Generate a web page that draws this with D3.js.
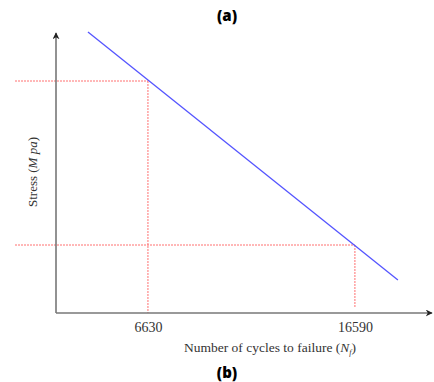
<!DOCTYPE html>
<html>
<head>
<meta charset="utf-8">
<script src="https://cdn.jsdelivr.net/npm/d3@7"></script>
<style>
  body { margin: 0; background: #fff; }
  svg { display: block; }
  .serif { font-family: "Liberation Serif", "Times New Roman", serif; fill: #333; }
  .cap { font-family: "Open Sans", "DejaVu Sans", sans-serif; font-weight: 800; fill: #000; }
</style>
</head>
<body>
<svg id="chart" width="434" height="382"></svg>
<script>
// cycles to failure marked on the x axis
var markCycles = [6630, 16590];
// stress level reached at each marked cycle count (arbitrary units, no ticks shown)
var markStress = [232, 68];
// ends of the S-N line
var lineCycles = [3743, 18660];
var lineStress = [281, 33];

var svg = d3.select('#chart');

var x = d3.scaleLinear().domain([2205, 20300]).range([56, 432]);
var y = d3.scaleLinear().domain([0, 280]).range([313, 33]);

var defs = svg.append('defs');
defs.append('marker')
  .attr('id', 'arrow')
  .attr('viewBox', '0 0 10 10')
  .attr('refX', 9).attr('refY', 5)
  .attr('markerWidth', 7).attr('markerHeight', 7)
  .attr('markerUnits', 'userSpaceOnUse')
  .attr('orient', 'auto')
  .append('path')
  .attr('d', 'M0,0 L10,5 L0,10 L3,5 Z')
  .attr('fill', '#222');

// guide lines
markCycles.forEach(function (c, i) {
  svg.append('line')
    .attr('x1', 15).attr('x2', x(c))
    .attr('y1', y(markStress[i])).attr('y2', y(markStress[i]))
    .attr('stroke', '#ff7070').attr('stroke-width', 1)
    .attr('stroke-dasharray', '2,1');
  svg.append('line')
    .attr('x1', x(c)).attr('x2', x(c))
    .attr('y1', y(markStress[i])).attr('y2', i === 0 ? y(0) : y(6))
    .attr('stroke', '#ff7070').attr('stroke-width', 1)
    .attr('stroke-dasharray', '2,1');
});

// S-N line
svg.append('line')
  .attr('x1', x(lineCycles[0])).attr('y1', y(lineStress[0]))
  .attr('x2', x(lineCycles[1])).attr('y2', y(lineStress[1]))
  .attr('stroke', '#5555ff').attr('stroke-width', 1.3);

// axes with arrows
svg.append('line')
  .attr('x1', x.range()[0]).attr('y1', y(0))
  .attr('x2', x.range()[0]).attr('y2', y.range()[1])
  .attr('stroke', '#777').attr('stroke-width', 1.6)
  .attr('marker-end', 'url(#arrow)');
svg.append('line')
  .attr('x1', x.range()[0]).attr('y1', y(0))
  .attr('x2', x.range()[1]).attr('y2', y(0))
  .attr('stroke', '#777').attr('stroke-width', 1.6)
  .attr('marker-end', 'url(#arrow)');

var xAxis = svg.append('g')
  .attr('transform', 'translate(0,' + y(0) + ')')
  .call(d3.axisBottom(x).tickValues(markCycles).tickSize(0).tickPadding(9).tickFormat(d3.format('d')));
xAxis.select('.domain').remove();
xAxis.selectAll('text')
  .attr('class', 'serif')
  .attr('font-size', 14)
  .attr('font-family', null);

// x label
var xl = svg.append('text')
  .attr('class', 'serif')
  .attr('x', 270).attr('y', 352)
  .attr('text-anchor', 'middle')
  .attr('font-size', 13.5);
xl.append('tspan').text('Number of cycles to failure (');
xl.append('tspan').attr('font-style', 'italic').text('N');
xl.append('tspan').attr('font-size', 8).attr('dy', 3).attr('font-style', 'italic').text('f');
xl.append('tspan').attr('dy', -3).text(')');

// y label
var yl = svg.append('text')
  .attr('class', 'serif')
  .attr('transform', 'translate(37,172) rotate(-90)')
  .attr('text-anchor', 'middle')
  .attr('font-size', 13);
yl.append('tspan').text('Stress (');
yl.append('tspan').attr('font-style', 'italic').text('M pa');
yl.append('tspan').text(')');

svg.append('text').attr('class', 'cap')
  .attr('x', 227).attr('y', 21).attr('text-anchor', 'middle')
  .attr('font-size', 15).text('(a)');
svg.append('text').attr('class', 'cap')
  .attr('x', 227).attr('y', 378).attr('text-anchor', 'middle')
  .attr('font-size', 15).text('(b)');
</script>
</body>
</html>
